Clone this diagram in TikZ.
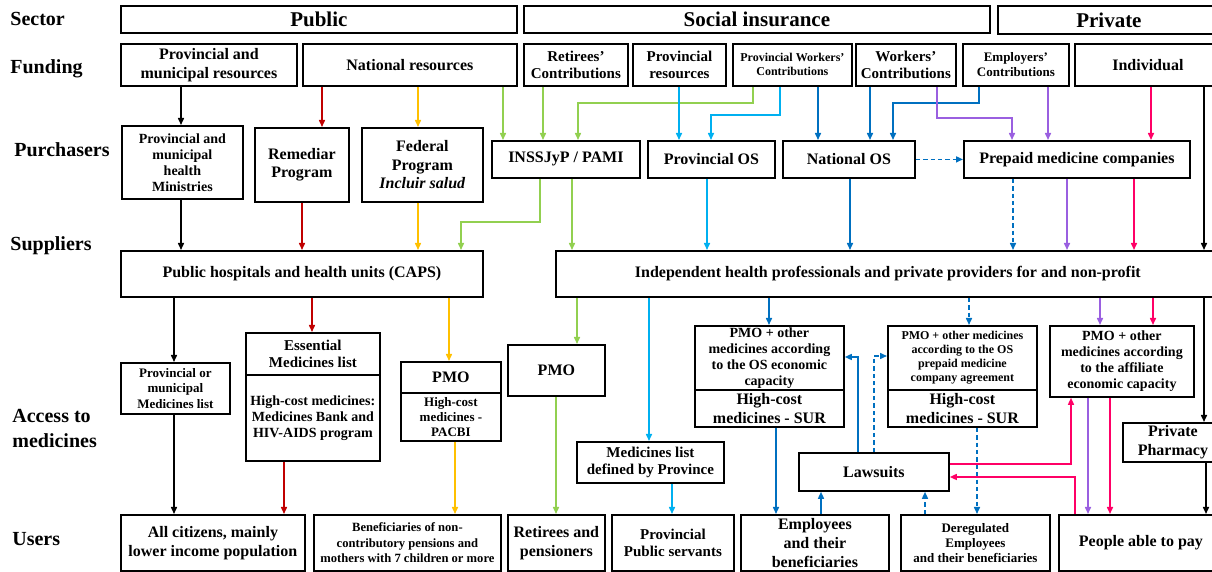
\documentclass[tikz,border=0pt]{standalone}
\usepackage{fontspec}
\setmainfont{Liberation Serif}
\usetikzlibrary{arrows.meta}
\definecolor{cRed}{HTML}{C00000}
\definecolor{cOra}{HTML}{FFC000}
\definecolor{cGrn}{HTML}{92D050}
\definecolor{cCya}{HTML}{00B0F0}
\definecolor{cBlu}{HTML}{0070C0}
\definecolor{cPur}{HTML}{9A5FE0}
\definecolor{cPnk}{HTML}{FF0066}
\tikzset{
  bx/.style={draw,line width=0.9pt,inner sep=0pt,align=center},
  cell/.style n args={4}{at={(#1,#2)},anchor=north west,minimum width={(#3-#1)*0.5pt},minimum height={(#4-#2)*0.5pt}},
  lbl/.style={anchor=west,align=left,inner sep=0pt,font=\bfseries\fontsize{10}{12.5}\selectfont},
  ft6/.style={font=\bfseries\fontsize{6}{7}\selectfont},
  ft65/.style={font=\bfseries\fontsize{6.5}{7.6}\selectfont},
  ft7/.style={font=\bfseries\fontsize{7}{8}\selectfont},
  ft75/.style={font=\bfseries\fontsize{7.5}{8.6}\selectfont},
  ft8/.style={font=\bfseries\fontsize{8}{9.3}\selectfont},
  ft105/.style={font=\bfseries\fontsize{10.5}{12}\selectfont},
  arr/.style={-{Triangle[length=3.5pt,width=3pt]},line width=0.75pt},
  dsh/.style={dash pattern=on 2.2pt off 1.5pt}
}
\begin{document}
\begin{tikzpicture}[x=0.5pt,y=-0.5pt]
\clip (0,0) rectangle (1212,572);
\node[lbl] (LSEC) at (10,19) {Sector};
\node[lbl] (LFUN) at (10,69) {Funding};
\node[lbl] (LPUR) at (14,150) {Purchasers};
\node[lbl] (LSUP) at (10,246) {Suppliers};
\node[lbl] (LACC) at (12,428) {Access to\\medicines};
\node[lbl] (LUSE) at (12,539) {Users};

\node[bx,ft105,cell={120}{5}{516}{32}] (SC1) {Public};
\node[bx,ft105,cell={523}{5}{989}{32}] (SC2) {Social insurance};
\node[bx,ft105,cell={997}{5}{1219}{33}] (SC3) {Private};

\node[bx,ft8,cell={120}{43}{296}{85}] (FU1) {Provincial and\\municipal resources};
\node[bx,ft8,cell={302}{43}{516}{85}] (FU2) {National resources};
\node[bx,ft75,cell={523}{43}{627}{85}] (FU3) {Retirees'\\Contributions};
\node[bx,ft75,cell={632}{43}{725}{85}] (FU4) {Provincial\\resources};
\node[bx,ft6,cell={732}{43}{851}{85}] (FU5) {Provincial Workers'\\Contributions};
\node[bx,ft75,cell={855}{43}{955}{85}] (FU6) {Workers'\\Contributions};
\node[bx,ft65,cell={962}{43}{1068}{85}] (FU7) {Employers'\\Contributions};
\node[bx,ft8,cell={1074}{43}{1220}{85}] (FU8) {Individual};

\node[bx,ft7,cell={121}{125}{242}{198}] (PU1) {Provincial and\\municipal\\health\\Ministries};
\node[bx,ft8,cell={254}{127}{348}{201}] (PU2) {Remediar\\Program};
\node[bx,ft8,cell={361}{127}{482}{201}] (PU3) {Federal\\Program\\\textit{Incluir salud}};
\node[bx,ft8,cell={491}{140}{639}{177}] (PU4) {INSSJyP / PAMI};
\node[bx,ft8,cell={647}{140}{774}{177}] (PU5) {Provincial OS};
\node[bx,ft8,cell={782}{140}{914}{177}] (PU6) {National OS};
\node[bx,ft8,cell={963}{140}{1189}{177}] (PU7) {Prepaid medicine companies};

\node[bx,ft8,cell={120}{250}{482}{296}] (SU1) {Public hospitals and health units (CAPS)};
\node[bx,ft8,cell={555}{250}{1219}{296}] (SU2) {Independent health professionals and private providers for and non-profit};

\node[bx,ft65,cell={120}{362}{229}{413}] (AC1) {Provincial or\\municipal\\Medicines list};
\node[bx,ft75,cell={245}{332}{379}{374}] (AC2) {Essential\\Medicines list};
\node[bx,ft7,cell={245}{374}{379}{460}] (AC3) {High-cost medicines:\\Medicines Bank and\\HIV-AIDS program};
\node[bx,ft8,cell={400}{361}{500}{392}] (AC4) {PMO};
\node[bx,ft65,cell={400}{392}{500}{440}] (AC5) {High-cost\\medicines -\\PACBI};
\node[bx,ft8,cell={507}{344}{604}{395}] (AC6) {PMO};
\node[bx,ft75,cell={576}{441}{723}{482}] (AC7) {Medicines list\\defined by Province};
\node[bx,ft7,cell={694}{325}{843}{389}] (AC8) {PMO + other\\medicines according\\to the OS economic\\capacity};
\node[bx,ft8,cell={694}{389}{843}{426}] (AC9) {High-cost\\medicines - SUR};
\node[bx,ft6,cell={887}{325}{1036}{389}] (AC10) {PMO + other medicines\\according to the OS\\prepaid medicine\\company agreement};
\node[bx,ft8,cell={887}{389}{1036}{426}] (AC11) {High-cost\\medicines - SUR};
\node[bx,ft7,cell={1049}{325}{1193}{396}] (AC12) {PMO + other\\medicines according\\to the affiliate\\economic capacity};
\node[bx,ft8,cell={1122}{422}{1222}{461}] (AC13) {Private\\Pharmacy};
\node[bx,ft8,cell={798}{452}{948}{490}] (LAW) {Lawsuits};

\node[bx,ft8,cell={120}{514}{304}{570}] (US1) {All citizens, mainly\\lower income population};
\node[bx,font=\bfseries\fontsize{6.3}{7.7}\selectfont,cell={313}{514}{500}{570}] (US2) {Beneficiaries of non-\\contributory pensions and\\mothers with 7 children or more};
\node[bx,ft8,cell={507}{514}{604}{570}] (US3) {Retirees and\\pensioners};
\node[bx,ft75,cell={611}{514}{733}{570}] (US4) {Provincial\\Public servants};
\node[bx,font=\bfseries\fontsize{8}{9.5}\selectfont,cell={740}{514}{888}{570}] (US5) {Employees\\and their\\beneficiaries};
\node[bx,ft65,cell={900}{514}{1049}{570}] (US6) {Deregulated\\Employees\\and their beneficiaries};
\node[bx,ft8,cell={1058}{514}{1222}{570}] (US7) {People able to pay};

\draw[arr] (FU1.south -| 181,0) -- (PU1.north -| 181,0);
\draw[arr] (PU1.south -| 181,0) -- (SU1.north -| 181,0);
\draw[arr] (SU1.south -| 174,0) -- (AC1.north -| 174,0);
\draw[arr] (AC1.south -| 174,0) -- (US1.north -| 174,0);
\draw[arr] (FU8.south -| 1204,0) -- (SU2.north -| 1204,0);
\draw[arr] (SU2.south -| 1204,0) -- (AC13.north -| 1204,0);
\draw[arr] (AC13.south -| 1206,0) -- (US7.north -| 1206,0);

\draw[arr,cRed] (FU2.south -| 322,0) -- (PU2.north -| 322,0);
\draw[arr,cRed] (PU2.south -| 302,0) -- (SU1.north -| 302,0);
\draw[arr,cRed] (SU1.south -| 312,0) -- (AC2.north -| 312,0);
\draw[arr,cRed] (AC3.south -| 284,0) -- (US1.north -| 284,0);

\draw[arr,cOra] (FU2.south -| 418,0) -- (PU3.north -| 418,0);
\draw[arr,cOra] (PU3.south -| 418,0) -- (SU1.north -| 418,0);
\draw[arr,cOra] (SU1.south -| 449,0) -- (AC4.north -| 449,0);
\draw[arr,cOra] (AC5.south -| 455,0) -- (US2.north -| 455,0);

\draw[arr,cGrn] (FU2.south -| 503,0) -- (PU4.north -| 503,0);
\draw[arr,cGrn] (FU3.south -| 543,0) -- (PU4.north -| 543,0);
\draw[arr,cGrn] (FU5.south -| 753,0) |- (578,103) -- (PU4.north -| 578,0);
\draw[arr,cGrn] (PU4.south -| 540,0) |- (461,222) -- (SU1.north -| 461,0);
\draw[arr,cGrn] (PU4.south -| 572,0) -- (SU2.north -| 572,0);
\draw[arr,cGrn] (SU2.south -| 577,0) -- (AC6.north -| 577,0);
\draw[arr,cGrn] (AC6.south -| 556,0) -- (US3.north -| 556,0);

\draw[arr,cCya] (FU4.south -| 679,0) -- (PU5.north -| 679,0);
\draw[arr,cCya] (FU5.south -| 780,0) |- (711,115) -- (PU5.north -| 711,0);
\draw[arr,cCya] (PU5.south -| 707,0) -- (SU2.north -| 707,0);
\draw[arr,cCya] (SU2.south -| 649,0) -- (AC7.north -| 649,0);
\draw[arr,cCya] (AC7.south -| 672,0) -- (US4.north -| 672,0);

\draw[arr,cBlu] (FU5.south -| 818,0) -- (PU6.north -| 818,0);
\draw[arr,cBlu] (FU6.south -| 870,0) -- (PU6.north -| 870,0);
\draw[arr,cBlu] (FU7.south -| 979,0) |- (893,103) -- (PU6.north -| 893,0);
\draw[arr,cBlu] (PU6.south -| 850,0) -- (SU2.north -| 850,0);
\draw[arr,cBlu] (SU2.south -| 769,0) -- (AC8.north -| 769,0);
\draw[arr,cBlu] (AC9.south -| 776,0) -- (US5.north -| 776,0);
\draw[arr,cBlu] (US5.north -| 821,0) -- (LAW.south -| 821,0);
\draw[arr,cBlu] (LAW.north -| 858,0) |- (AC8.east |- 0,357);
\draw[arr,cBlu,dsh] (PU6.east) -- (PU7.west |- PU6.east);
\draw[arr,cBlu,dsh] (PU7.south -| 1013,0) -- (SU2.north -| 1013,0);
\draw[arr,cBlu,dsh] (SU2.south -| 969,0) -- (AC10.north -| 969,0);
\draw[arr,cBlu,dsh] (AC11.south -| 977,0) -- (US6.north -| 977,0);
\draw[arr,cBlu,dsh] (US6.north -| 925,0) -- (LAW.south -| 925,0);
\draw[arr,cBlu,dsh] (LAW.north -| 874,0) |- (AC10.west |- 0,356);

\draw[arr,cPur] (FU6.south -| 937,0) |- (1012,118) -- (PU7.north -| 1012,0);
\draw[arr,cPur] (FU7.south -| 1048,0) -- (PU7.north -| 1048,0);
\draw[arr,cPur] (PU7.south -| 1067,0) -- (SU2.north -| 1067,0);
\draw[arr,cPur] (SU2.south -| 1100,0) -- (AC12.north -| 1100,0);
\draw[arr,cPur] (AC12.south -| 1088,0) -- (US7.north -| 1088,0);

\draw[arr,cPnk] (FU8.south -| 1151,0) -- (PU7.north -| 1151,0);
\draw[arr,cPnk] (PU7.south -| 1134,0) -- (SU2.north -| 1134,0);
\draw[arr,cPnk] (SU2.south -| 1153,0) -- (AC12.north -| 1153,0);
\draw[arr,cPnk] (AC12.south -| 1110,0) -- (US7.north -| 1110,0);
\draw[arr,cPnk] (LAW.east |- 0,464) -| (AC12.south -| 1071,0);
\draw[arr,cPnk] (US7.north -| 1075,0) |- (LAW.east |- 0,477);
\end{tikzpicture}
\end{document}
